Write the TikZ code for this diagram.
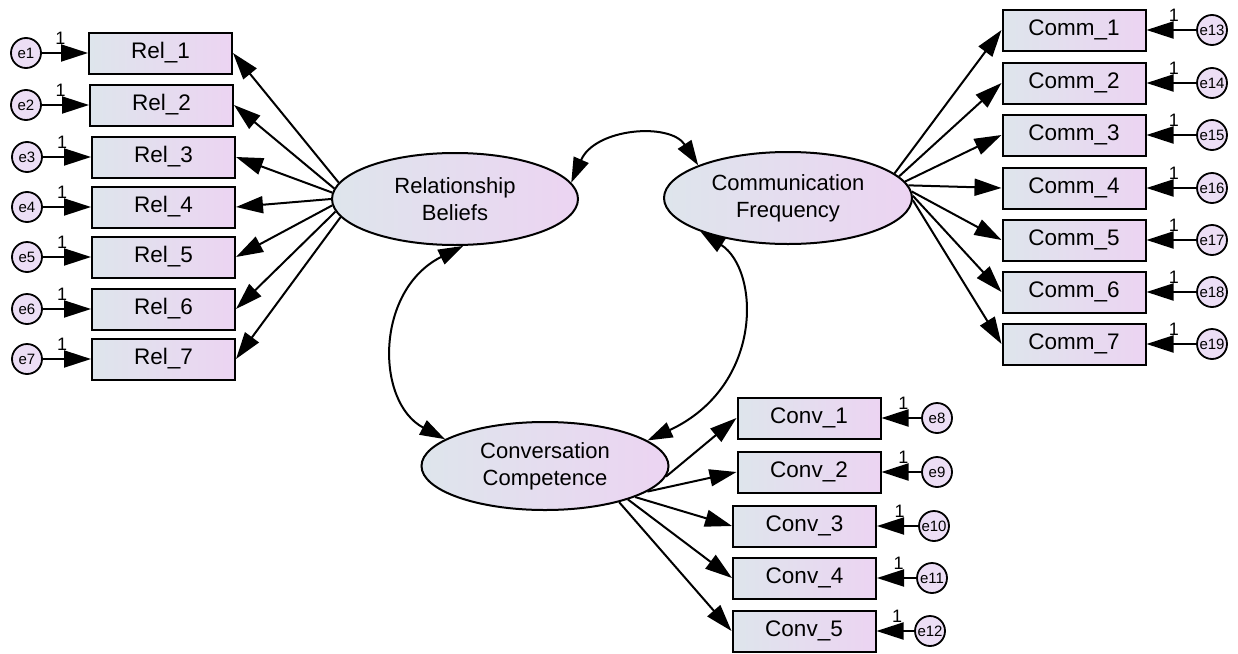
\documentclass[tikz,border=0pt]{standalone}
\usepackage{fontspec}
\setmainfont{Liberation Sans}
\usetikzlibrary{arrows.meta,shapes.geometric}

\definecolor{shadeL}{RGB}{222,229,236}
\definecolor{shadeR}{RGB}{236,212,242}
\definecolor{errfill}{RGB}{236,222,245}

\tikzset{
  obs/.style={draw, line width=2pt, minimum width=143pt, minimum height=41pt,
    inner sep=0pt, shading=axis, left color=shadeL, right color=shadeR,
    font=\fontsize{22.5}{26}\selectfont},
  lat/.style={ellipse, draw, line width=2pt, inner sep=0pt, align=center,
    shading=axis, left color=shadeL, right color=shadeR,
    font=\fontsize{22}{27}\selectfont},
  err/.style={circle, draw, line width=1.8pt, minimum size=30pt, inner sep=0pt,
    fill=errfill, font=\fontsize{15}{15}\selectfont},
  load/.style={line width=2pt, -{Triangle[length=27pt,width=17pt]}},
  cov/.style={line width=2pt, {Triangle[length=25pt,width=16pt]}-{Triangle[length=25pt,width=16pt]}},
  one/.style={font=\fontsize{18}{18}\selectfont, inner sep=0pt, anchor=south, yshift=8pt}
}

\begin{document}
\begin{tikzpicture}[x=1pt,y=-1pt]
\useasboundingbox (0,0) rectangle (1238,653);

% latent variables
\node[lat, minimum width=246pt, minimum height=92pt] (RB) at (455,199) {Relationship\\Beliefs};
\node[lat, minimum width=248pt, minimum height=92pt] (CF) at (788,198) {Communication\\Frequency};
\node[lat, minimum width=247pt, minimum height=88pt] (CC) at (545,466) {Conversation\\Competence};

% Relationship Beliefs indicators
\foreach \i/\x/\y/\ex/\a in {1/160.5/53/26/172, 2/161.5/105/26/175, 3/163.5/157/27/177,
    4/163.5/207/27/180, 5/163.5/257/27/183, 6/163.5/309/27/186, 7/163.5/359/27/189}{
  \node[obs] (Rel\i) at (\x,\y) {Rel\_\i};
  \node[err] (e\i) at (\ex,\y) {e\i};
  \draw[load] (e\i) -- (Rel\i.west) node[one, pos=0.4] {1};
  \draw[load] (RB.\a) -- (Rel\i.east);
}

% Communication Frequency indicators
\foreach \i/\y/\e/\a in {1/30/13/13, 2/83/14/11, 3/135/15/8, 4/188/16/6,
    5/240/17/3, 6/292/18/1, 7/344/19/-1}{
  \node[obs] (Comm\i) at (1074,\y) {Comm\_\i};
  \node[err] (e\e) at (1212,\y) {e\e};
  \draw[load] (e\e) -- (Comm\i.east) node[one, pos=0.45] {1};
  \draw[load] (CF.\a) -- (Comm\i.west);
}

% Conversation Competence indicators
\foreach \i/\x/\y/\e/\ex/\a in {1/809/418/8/937/-5, 2/809/472/9/937/-14,
    3/804.5/526/10/934/-19, 4/804.5/578/11/932/-22, 5/804/631/12/930/-26}{
  \node[obs] (Conv\i) at (\x,\y) {Conv\_\i};
  \node[err] (e\e) at (\ex,\y) {e\e};
  \draw[load] (e\e) -- (Conv\i.east) node[one, pos=0.45] {1};
  \draw[load] (CC.\a) -- (Conv\i.west);
}

% covariances between latent variables
\draw[cov] (RB.8) .. controls (595,128) and (670,122) .. (CF.160);
\draw[cov] (RB.-80) .. controls (375,290) and (375,402) .. (CC.165);
\draw[cov] (CF.201) .. controls (760,270) and (764,386) .. (CC.14);
\end{tikzpicture}
\end{document}
